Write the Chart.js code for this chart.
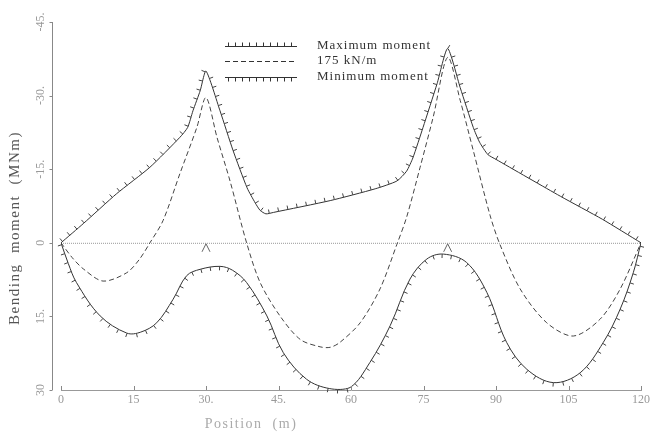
<!DOCTYPE html>
<html>
<head>
<meta charset="utf-8">
<script src="https://cdn.jsdelivr.net/npm/chart.js@4.4.0/dist/chart.umd.min.js"></script>
<style>
  html, body { margin: 0; padding: 0; background: #fff; }
  #wrap { width: 654px; height: 435px; }
</style>
</head>
<body>
<div id="wrap"><canvas id="momentChart"></canvas></div>
<script>
// envelope of bending moment along the girder (negative = hogging, plotted upward)
const maxPos = [0, 4.6, 11.5, 18.4, 24.6, 26.2, 27.3, 28.8, 30, 32.9, 35.6, 38.5, 40.2, 41.2, 42.4, 44, 55.7, 65, 69.5, 71.5, 72.8, 74.9, 77.8, 80, 82.6, 85.3, 86.6, 88.3, 90, 103.3, 112, 120];
const maxVal = [0, -3.9, -10, -15.4, -21.5, -23.5, -26.9, -31, -35, -26.9, -18.8, -11.2, -8.1, -6.6, -5.9, -6.2, -8.6, -11, -12.6, -14.6, -17.3, -23.5, -32.4, -39.6, -31.6, -23.5, -20.5, -18, -17, -9.5, -4.8, 0];

const loadPos = [0, 2.3, 4.6, 8.7, 13.6, 16.2, 18.4, 21.1, 24.6, 28.1, 30, 32.3, 35, 38.4, 41.2, 45.3, 49.5, 53.6, 55.7, 57.7, 61.9, 66, 69.5, 71.5, 74.3, 77, 80, 82.6, 85.3, 88.8, 90.8, 95, 100.5, 106, 111.5, 115.7, 120];
const loadVal = [0, 3.0, 5.3, 7.8, 6.1, 3.4, 0, -4.5, -14.1, -23.5, -29.6, -21.4, -12.5, 0, 8.1, 14.9, 19.7, 21.2, 21.3, 20.3, 16.3, 9.4, 0.3, -5.2, -15.4, -25.6, -37.8, -29, -18.8, -5.5, 0.3, 9.4, 16.3, 19, 15.6, 9.4, 0];

const minPos = [0, 1.5, 3.2, 8.1, 13.6, 16.5, 19.8, 23.2, 26, 28.8, 32.9, 35.5, 38.4, 42.6, 46, 50.8, 55.5, 59.8, 63.9, 68.1, 72.2, 75.7, 79.1, 83.9, 88.1, 92.2, 96.4, 101.9, 107.4, 112.2, 115.7, 118.4, 120];
const minVal = [0, 4.2, 8.1, 14.9, 18.4, 18.2, 16.3, 11.5, 6.7, 5.4, 4.8, 5.6, 8.1, 14.9, 22.4, 27.8, 29.7, 29.5, 24.4, 16.9, 7.4, 3.3, 2.3, 4.0, 10.1, 20.3, 25.8, 28.5, 26.5, 20.3, 13.5, 6.1, 0];

const supports = [30, 80];
const xTickLabels = ['0', '15', '30.', '45.', '60', '75', '90', '105', '120'];
const yTickValues = [-45, -30, -15, 0, 15, 30];
const yTickLabels = ['-45.', '-30.', '-15.', '0', '15.', '30'];
const seriesNames = ['Maximum moment', '175 kN/m', 'Minimum moment'];

const toPoints = (xs, ys) => xs.map((x, i) => ({ x: x, y: ys[i] }));
const SERIF = '"Liberation Serif", "DejaVu Serif", serif';

// sample the drawn bezier path of a line dataset into a dense polyline
function densePath(meta) {
  const pts = meta.data;
  const out = [];
  for (let i = 0; i < pts.length - 1; i++) {
    const a = pts[i], b = pts[i + 1];
    const c1x = a.cp2x ?? a.x, c1y = a.cp2y ?? a.y;
    const c2x = b.cp1x ?? b.x, c2y = b.cp1y ?? b.y;
    for (let k = 0; k < 24; k++) {
      const t = k / 24, u = 1 - t;
      out.push({
        x: u*u*u*a.x + 3*u*u*t*c1x + 3*u*t*t*c2x + t*t*t*b.x,
        y: u*u*u*a.y + 3*u*u*t*c1y + 3*u*t*t*c2y + t*t*t*b.y
      });
    }
  }
  const last = pts[pts.length - 1];
  out.push({ x: last.x, y: last.y });
  return out;
}

// short hatch marks along a path; side 1 = above the line, -1 = below
function hatch(ctx, path, side, gap, len) {
  let next = 2;
  let run = 0;
  ctx.beginPath();
  for (let i = 0; i < path.length - 1; i++) {
    const p = path[i], q = path[i + 1];
    const dx = q.x - p.x, dy = q.y - p.y;
    const seg = Math.hypot(dx, dy);
    if (!seg) continue;
    while (run + seg >= next) {
      const f = (next - run) / seg;
      const x = p.x + dx * f, y = p.y + dy * f;
      const tx = dx / seg, ty = dy / seg;
      ctx.moveTo(x, y);
      ctx.lineTo(x + side * ty * len, y - side * tx * len);
      next += gap;
    }
    run += seg;
  }
  ctx.stroke();
}

const decor = {
  id: 'decor',
  beforeDatasetsDraw(chart) {
    const { ctx, chartArea: a, scales: { x, y } } = chart;
    const y0 = y.getPixelForValue(0);
    ctx.save();
    // zero line
    ctx.strokeStyle = '#9a9a9a';
    ctx.lineWidth = 1;
    ctx.setLineDash([1, 1]);
    ctx.beginPath();
    ctx.moveTo(a.left, y0 + 0.5);
    ctx.lineTo(a.right, y0 + 0.5);
    ctx.stroke();
    ctx.setLineDash([]);
    // support marks
    ctx.strokeStyle = '#666';
    supports.forEach(s => {
      const px = x.getPixelForValue(s);
      ctx.beginPath();
      ctx.moveTo(px - 4, y0 + 9);
      ctx.lineTo(px, y0 + 1);
      ctx.lineTo(px + 4, y0 + 9);
      ctx.stroke();
    });
    ctx.restore();
  },
  afterDatasetsDraw(chart) {
    const { ctx } = chart;
    ctx.save();
    ctx.strokeStyle = '#444';
    ctx.lineWidth = 1;
    hatch(ctx, densePath(chart.getDatasetMeta(0)), 1, 9.5, 4);
    hatch(ctx, densePath(chart.getDatasetMeta(2)), -1, 9.5, 4);
    ctx.restore();
  },
  afterDraw(chart) {
    const { ctx, chartArea: a, scales: { x, y } } = chart;
    ctx.save();
    // left axis, set a little away from the plot
    const ax = a.left - 8.5;
    ctx.strokeStyle = '#888';
    ctx.lineWidth = 1;
    ctx.beginPath();
    ctx.moveTo(ax, a.top);
    ctx.lineTo(ax, a.bottom);
    yTickValues.forEach(v => {
      const py = Math.round(y.getPixelForValue(v)) + 0.5;
      ctx.moveTo(ax - 3, py);
      ctx.lineTo(ax, py);
    });
    // bottom axis ticks point up
    for (let v = 0; v <= 120; v += 15) {
      const px = Math.round(x.getPixelForValue(v)) + 0.5;
      ctx.moveTo(px, a.bottom);
      ctx.lineTo(px, a.bottom - 4);
    }
    ctx.stroke();

    // rotated left tick labels
    ctx.fillStyle = '#999';
    ctx.font = '12px ' + SERIF;
    ctx.textAlign = 'center';
    ctx.textBaseline = 'middle';
    yTickValues.forEach((v, i) => {
      ctx.save();
      ctx.translate(41, y.getPixelForValue(v));
      ctx.rotate(-Math.PI / 2);
      ctx.fillText(yTickLabels[i], 0, 0);
      ctx.restore();
    });

    // axis titles
    ctx.letterSpacing = '1.5px';
    ctx.fillStyle = '#555';
    ctx.font = '15px ' + SERIF;
    ctx.save();
    ctx.translate(15, 228);
    ctx.rotate(-Math.PI / 2);
    ctx.fillText('Bending  moment  (MNm)', 0, 0);
    ctx.restore();
    ctx.fillStyle = '#aaa';
    ctx.font = '14px ' + SERIF;
    ctx.fillText('Position  (m)', 251, 424);

    // legend
    ctx.letterSpacing = '1px';
    const rows = [46, 61, 77];
    const lx0 = 225, lx1 = 297;
    ctx.strokeStyle = '#333';
    ctx.fillStyle = '#333';
    ctx.font = '13px ' + SERIF;
    ctx.textAlign = 'left';
    rows.forEach((ry, i) => {
      ctx.beginPath();
      if (i === 1) ctx.setLineDash([5, 3]);
      ctx.moveTo(lx0, ry + 0.5);
      ctx.lineTo(lx1, ry + 0.5);
      ctx.stroke();
      ctx.setLineDash([]);
      if (i !== 1) {
        const side = i === 0 ? -1 : 1;
        ctx.beginPath();
        for (let px = lx0 + 3; px <= lx1; px += 7) {
          ctx.moveTo(px + 0.5, ry + 0.5);
          ctx.lineTo(px + 0.5, ry + 0.5 + side * 4);
        }
        ctx.stroke();
      }
      ctx.fillText(seriesNames[i], 317, ry);
    });
    ctx.restore();
  }
};

new Chart(document.getElementById('momentChart'), {
  type: 'line',
  data: {
    datasets: [{
      label: seriesNames[0],
      data: toPoints(maxPos, maxVal),
      borderColor: '#333',
      borderWidth: 1,
      pointRadius: 0,
      tension: 0.2
    }, {
      label: seriesNames[1],
      data: toPoints(loadPos, loadVal),
      borderColor: '#444',
      borderWidth: 1,
      borderDash: [5, 3],
      pointRadius: 0,
      tension: 0.3
    }, {
      label: seriesNames[2],
      data: toPoints(minPos, minVal),
      borderColor: '#333',
      borderWidth: 1,
      pointRadius: 0,
      tension: 0.35
    }]
  },
  options: {
    responsive: true,
    maintainAspectRatio: false,
    animation: false,
    devicePixelRatio: 1,
    layout: { padding: { left: 61, right: 13, top: 22, bottom: 0 } },
    plugins: {
      legend: { display: false },
      tooltip: { enabled: false }
    },
    scales: {
      x: {
        type: 'linear',
        min: 0,
        max: 120,
        ticks: {
          stepSize: 15,
          autoSkip: false,
          maxRotation: 0,
          padding: 3,
          color: '#999',
          font: { family: SERIF, size: 12 },
          callback: (v, i) => xTickLabels[i]
        },
        grid: { display: false, drawTicks: false },
        border: { display: true, color: '#999', dash: [1, 1] },
        afterFit: s => { s.height = 45; }
      },
      y: {
        display: false,
        reverse: true,
        min: -45,
        max: 30
      }
    }
  },
  plugins: [decor]
});
</script>
</body>
</html>
